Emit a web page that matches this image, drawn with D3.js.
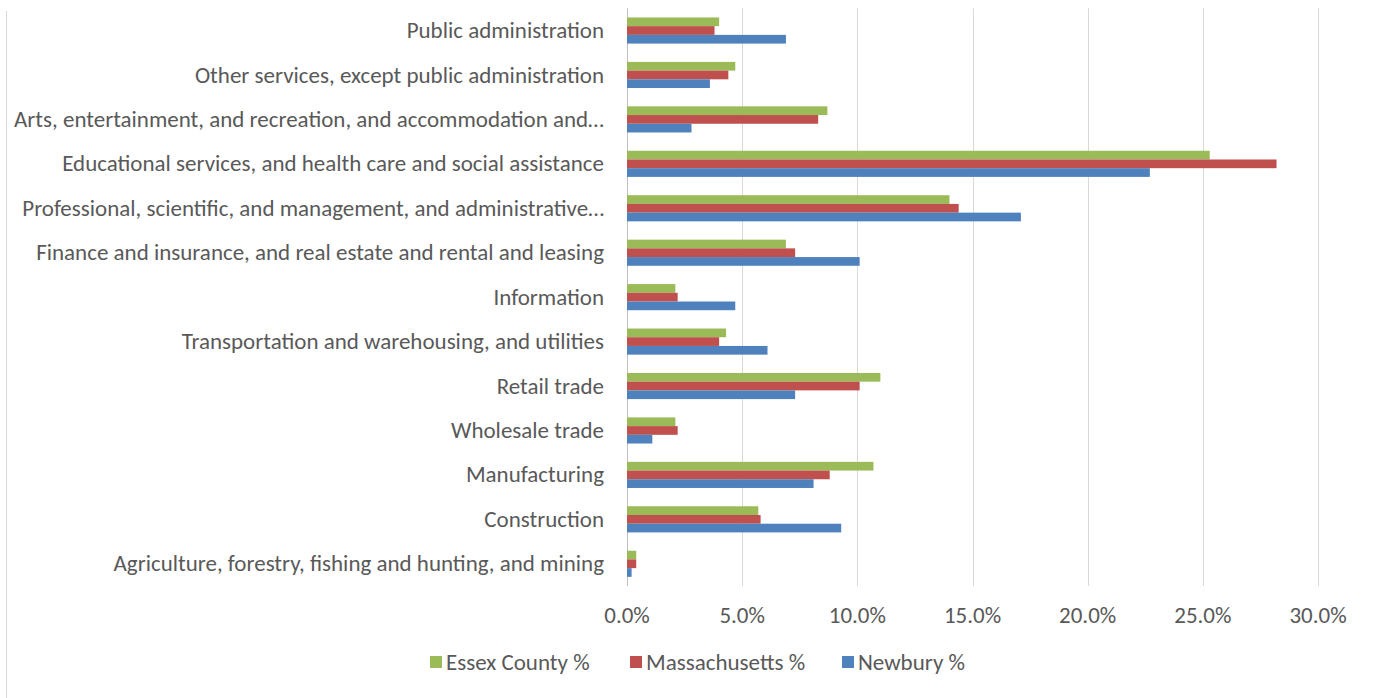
<!DOCTYPE html>
<html>
<head>
<meta charset="utf-8">
<script src="https://cdn.jsdelivr.net/npm/d3@7"></script>
<style>
  html, body { margin: 0; padding: 0; background: #fff; }
  svg { display: block; }
  text { font-family: Carlito, Calibri, Lato, "Open Sans", sans-serif; fill: #595959; }
</style>
</head>
<body>
<svg id="chart" width="1374" height="698"></svg>
<script>
// ---- Data ----
const categories = [
  "Public administration",
  "Other services, except public administration",
  "Arts, entertainment, and recreation, and accommodation and…",
  "Educational services, and health care and social assistance",
  "Professional, scientific, and management, and administrative…",
  "Finance and insurance, and real estate and rental and leasing",
  "Information",
  "Transportation and warehousing, and utilities",
  "Retail trade",
  "Wholesale trade",
  "Manufacturing",
  "Construction",
  "Agriculture, forestry, fishing and hunting, and mining"
];
const seriesNames = ["Essex County %", "Massachusetts %", "Newbury %"];
const essexCounty   = [4.0, 4.7, 8.7, 25.3, 14.0, 6.9, 2.1, 4.3, 11.0, 2.1, 10.7, 5.7, 0.4];
const massachusetts = [3.8, 4.4, 8.3, 28.2, 14.4, 7.3, 2.2, 4.0, 10.1, 2.2, 8.8, 5.8, 0.4];
const newbury       = [6.9, 3.6, 2.8, 22.7, 17.1, 10.1, 4.7, 6.1, 7.3, 1.1, 8.1, 9.3, 0.2];
const xTicks = [0, 5, 10, 15, 20, 25, 30];
const colors = ["#9BBB59", "#C0504D", "#4F81BD"];

const seriesValues = [essexCounty, massachusetts, newbury];

// ---- Layout ----
const svg = d3.select("#chart");
const plot = { left: 627, right: 1318, top: 8.3, bottom: 586 };

const x = d3.scaleLinear().domain([0, 30]).range([plot.left, plot.right]);
const y = d3.scaleBand().domain(categories).range([plot.top, plot.bottom])
  .paddingInner(0.412).paddingOuter(0.206);
const ySub = d3.scaleBand().domain(seriesNames).range([0, y.bandwidth()]);

// font sizing to match reference text widths (fit over several labels)
function fitSize(strs, targets) {
  let wSum = 0, tSum = 0;
  strs.forEach((s, i) => {
    const t = svg.append("text").attr("font-size", 100).text(s);
    wSum += t.node().getComputedTextLength();
    t.remove();
    tSum += targets[i];
  });
  return 100 * tSum / wSum;
}
const labelSize = fitSize(
  [categories[3], categories[2], categories[4], categories[12], categories[0], categories[5]],
  [546, 582, 573, 497, 199, 574]);
const legendSize = fitSize(["Essex County %", "Massachusetts %", "Newbury %"], [146, 158, 106]);

// left chart-border edge
svg.append("line")
  .attr("x1", 6.5).attr("x2", 6.5).attr("y1", 11).attr("y2", 698)
  .attr("stroke", "#D9D9D9").attr("stroke-width", 1);

// gridlines
svg.append("g").selectAll("line").data(xTicks).join("line")
  .attr("x1", d => Math.round(x(d)) + 0.5).attr("x2", d => Math.round(x(d)) + 0.5)
  .attr("y1", plot.top).attr("y2", plot.bottom)
  .attr("stroke", d => d === 0 ? "#BFBFBF" : "#D9D9D9").attr("stroke-width", 1);

// bars
const groups = svg.append("g").selectAll("g").data(categories).join("g")
  .attr("transform", c => `translate(0,${y(c)})`);
groups.selectAll("rect")
  .data((c, i) => seriesNames.map((s, j) => ({ s, j, v: seriesValues[j][i] })))
  .join("rect")
  .attr("x", x(0))
  .attr("y", d => ySub(d.s))
  .attr("width", d => x(d.v) - x(0))
  .attr("height", ySub.bandwidth())
  .attr("fill", d => colors[d.j]);

// category labels
svg.append("g").selectAll("text").data(categories).join("text")
  .attr("x", 604)
  .attr("y", c => y(c) + y.bandwidth() / 2 - 0.5)
  .attr("dy", "0.35em")
  .attr("text-anchor", "end")
  .attr("font-size", labelSize)
  .text(c => c);

// x tick labels
const fmt = d3.format(".1f");
svg.append("g").selectAll("text").data(xTicks).join("text")
  .attr("x", d => x(d))
  .attr("y", 615)
  .attr("dy", "0.35em")
  .attr("text-anchor", "middle")
  .attr("font-size", labelSize)
  .text(d => fmt(d) + "%");

// legend
const legendStarts = [430, 630, 842];
const legend = svg.append("g").selectAll("g").data(seriesNames).join("g")
  .attr("transform", (d, i) => `translate(${legendStarts[i]},0)`);
legend.append("rect")
  .attr("x", 0).attr("y", 656).attr("width", 12).attr("height", 12)
  .attr("fill", (d, i) => colors[i]);
legend.append("text")
  .attr("x", 16).attr("y", 662).attr("dy", "0.35em")
  .attr("font-size", legendSize)
  .text(d => d);
</script>
</body>
</html>
